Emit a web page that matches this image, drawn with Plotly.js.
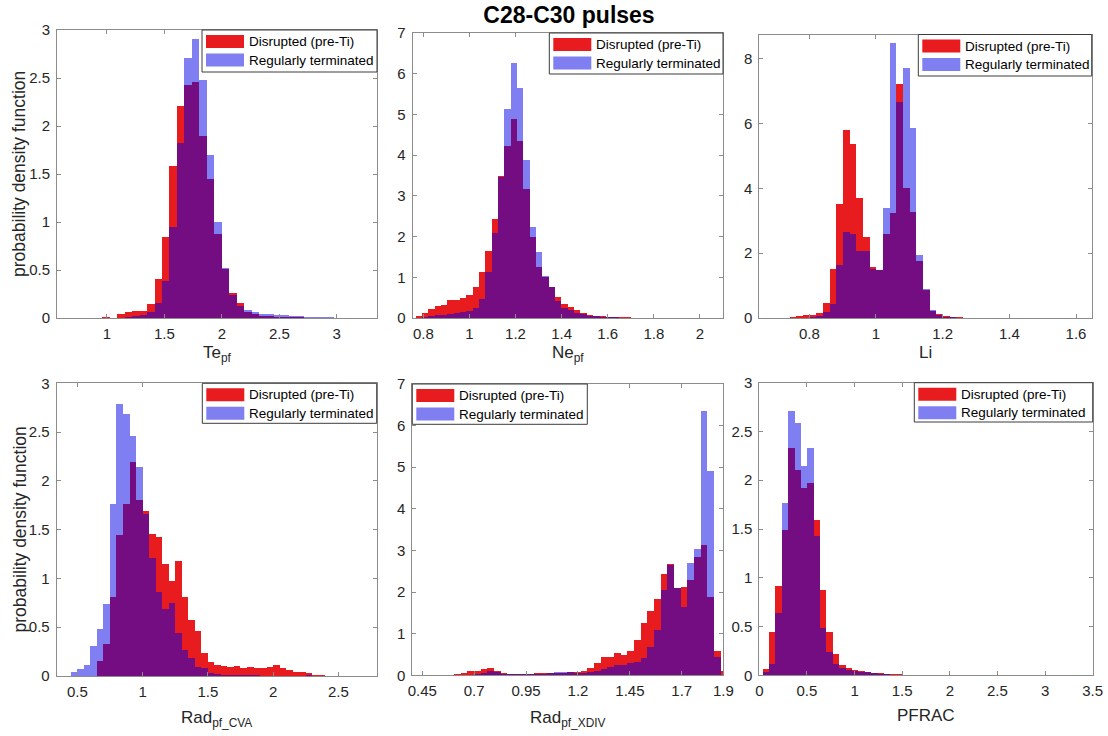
<!DOCTYPE html>
<html>
<head>
<meta charset="utf-8">
<script src="https://cdn.plot.ly/plotly-3.0.1.min.js"></script>
<style>
html,body{margin:0;padding:0;background:#ffffff;}
#chart{width:1108px;height:736px;}
</style>
</head>
<body>
<div id="chart"></div>
<script>
// ---------------- DATA (pdf-normalised histogram bin heights) ----------------
const seriesNames = ["Disrupted (pre-Ti)", "Regularly terminated"];

// Te_pf : bins start 0.959, width 0.065
const teBinStart = 0.959, teBinWidth = 0.065;
const teDisrupted = [0.007,0.003,0.04,0.06,0.07,0.07,0.15,0.41,0.845,1.585,2.21,2.43,2.455,1.90,1.45,0.87,0.507,0.257,0.153,0.066,0.045,0.025,0.02,0.015,0.01,0.01,0.008,0.005,0.004,0.003,0.002,0.001];
const teRegular   = [0,0,0.005,0.01,0.02,0.03,0.065,0.16,0.385,0.95,1.82,2.71,2.905,2.48,1.70,0.995,0.517,0.24,0.128,0.083,0.06,0.045,0.04,0.035,0.03,0.025,0.02,0.015,0.015,0.01,0.008,0.005];

// Ne_pf : bins start 0.7668, width 0.0275
const neBinStart = 0.7668, neBinWidth = 0.0275;
const neDisrupted = [0.04,0.12,0.21,0.29,0.33,0.44,0.45,0.48,0.57,0.76,1.12,1.64,2.43,3.48,4.22,4.89,4.34,3.17,1.98,1.26,1.0,0.76,0.52,0.34,0.27,0.19,0.13,0.08,0.05,0.04,0.03,0.02,0.02,0.015,0.01,0.01,0.008,0.005];
const neRegular   = [0,0.02,0.04,0.08,0.08,0.11,0.12,0.14,0.16,0.25,0.46,1.12,2.08,3.46,5.14,6.26,5.66,3.89,2.245,1.63,1.04,0.75,0.41,0.25,0.2,0.12,0.1,0.06,0.04,0.03,0.02,0.015,0.01,0.008,0.005,0.003,0.002,0.001];

// Li : bins start 0.741, width 0.02
const liBinStart = 0.741, liBinWidth = 0.02;
const liDisrupted = [0.02,0.06,0.08,0.1,0.15,0.47,1.52,3.5,5.8,5.37,3.7,2.5,1.58,1.47,2.6,3.25,7.2,4.0,3.27,1.77,0.85,0.22,0.12,0.06,0.04,0.03,0.01];
const liRegular   = [0,0,0.01,0.02,0.05,0.2,0.42,1.62,2.65,2.6,2.08,2.06,1.5,1.48,3.4,8.47,6.65,7.7,5.85,1.93,0.88,0.25,0.08,0.03,0.02,0.01,0];

// Rad_pf_CVA : bins start 0.35, width 0.05
const cvaBinStart = 0.35, cvaBinWidth = 0.05;
const cvaDisrupted = [0.005,0.003,0,0,0,0.005,0.154,0.328,0.813,1.445,1.76,2.19,1.80,1.69,1.455,1.42,1.148,0.977,1.182,0.813,0.574,0.465,0.239,0.147,0.113,0.106,0.096,0.106,0.085,0.089,0.082,0.085,0.096,0.113,0.079,0.06,0.044,0.044,0.027,0.014,0.01];
const cvaRegular   = [0,0.005,0.044,0.072,0.113,0.31,0.485,0.735,1.763,2.784,2.69,2.46,2.14,1.66,1.206,0.864,0.683,0.745,0.437,0.266,0.18,0.096,0.079,0.034,0.02,0.015,0.01,0.008,0.008,0.006,0.006,0.005,0.005,0.005,0.004,0.004,0.004,0.004,0.01,0,0];

// Rad_pf_XDIV : bins start 0.603, width 0.0321
const xdivBinStart = 0.603, xdivBinWidth = 0.0321;
const xdivDisrupted = [0.02,0.06,0.1,0.11,0.14,0.18,0.1,0.05,0.03,0.03,0.04,0.04,0.05,0.05,0.05,0.05,0.06,0.07,0.09,0.11,0.18,0.29,0.43,0.43,0.545,0.48,0.59,0.85,1.25,1.55,1.835,2.44,2.67,2.09,2.12,2.29,2.85,3.12,1.89,0.593,0.1];
const xdivRegular   = [0,0,0.01,0.02,0.05,0.1,0.07,0.04,0.02,0.02,0.03,0.03,0.04,0.04,0.05,0.07,0.075,0.07,0.05,0.065,0.09,0.11,0.14,0.19,0.25,0.25,0.29,0.33,0.41,0.67,1.1,2.05,2.64,2.1,1.65,2.69,3.03,6.34,4.92,0.433,0];

// PFRAC : bins start 0.035, width 0.067
const pfBinStart = 0.035, pfBinWidth = 0.067;
const pfDisrupted = [0.065,0.44,0.92,1.49,2.33,2.11,1.92,1.97,1.59,0.875,0.44,0.215,0.106,0.07,0.055,0.04,0.03,0.025,0.02,0.015,0.01,0.01,0.005,0.003,0.002,0.001];
const pfRegular   = [0.03,0.115,0.64,1.77,2.71,2.59,2.145,2.33,1.43,0.49,0.24,0.12,0.08,0.055,0.045,0.035,0.03,0.02,0.015,0.01,0.008,0.005,0.003,0.002,0.001,0.001];

// axis tick labels
const xdivTickVals = [0.45,0.7,0.95,1.2,1.45,1.7,1.9];
const xdivTickText = ["0.45","0.7","0.95","1.2","1.45","1.7","1.9"];
const xLabels = ["Te<sub>pf</sub>","Ne<sub>pf</sub>","Li","Rad<sub>pf_CVA</sub>","Rad<sub>pf_XDIV</sub>","PFRAC"];
const yLabel = "probability density function";
const chartTitle = "C28-C30 pulses";

// ---------------- LAYOUT / STYLE ----------------
const W = 1108, H = 736;
const px = x => x / W;
const py = y => 1 - y / H;
const FONT = "Liberation Sans, Arial, Helvetica, sans-serif";
const RED = "rgb(232,27,30)";
const BLUE = "rgba(0,0,230,0.5)";

function centers(start, width, n) {
  const c = [];
  for (let i = 0; i < n; i++) c.push(start + (i + 0.5) * width);
  return c;
}

// panel geometry in pixels: [left, top, right, bottom]
const panels = [
  {red: teDisrupted,  blue: teRegular,  start: teBinStart,  width: teBinWidth,
   box: [57, 30, 377, 318],   xr: [0.565, 3.35], yr: [0, 3],    xd: 0.5, yd: 0.5,
   leg: [202, 30, 377, 72],   titleY: 354},
  {red: neDisrupted,  blue: neRegular,  start: neBinStart,  width: neBinWidth,
   box: [412.7, 33, 723, 318], xr: [0.754, 2.1], yr: [0, 7],   xd: 0.2, yd: 1,
   leg: [549.3, 33, 723, 74],  titleY: 354},
  {red: liDisrupted,  blue: liRegular,  start: liBinStart,  width: liBinWidth,
   box: [759.3, 34.5, 1091.7, 318], xr: [0.65, 1.647], yr: [0, 8.74], xd: 0.2, yd: 2,
   leg: [918.3, 34.5, 1091.7, 76], titleY: 352},
  {red: cvaDisrupted, blue: cvaRegular, start: cvaBinStart, width: cvaBinWidth,
   box: [56.7, 383.3, 376.7, 676], xr: [0.342, 2.794], yr: [0, 3], xd: 0.5, yd: 0.5,
   leg: [202.3, 383.3, 376.7, 423.3], titleY: 719},
  {red: xdivDisrupted, blue: xdivRegular, start: xdivBinStart, width: xdivBinWidth,
   box: [412.3, 384, 723.3, 675.3], xr: [0.402, 1.9], yr: [0, 7], xd: null, yd: 1,
   leg: [412.3, 384, 587.3, 424.3], titleY: 719},
  {red: pfDisrupted,  blue: pfRegular,  start: pfBinStart,  width: pfBinWidth,
   box: [759.3, 382.7, 1092.7, 675.3], xr: [0, 3.5], yr: [0, 3], xd: 0.5, yd: 0.5,
   leg: [914.3, 382.7, 1092.7, 422], titleY: 715}
];

const traces = [];
const layout = {
  width: W, height: H,
  margin: {l: 0, r: 0, t: 0, b: 0},
  paper_bgcolor: "#ffffff", plot_bgcolor: "#ffffff",
  barmode: "overlay", bargap: 0,
  showlegend: false,
  font: {family: FONT, size: 15, color: "#262626"},
  title: {text: "<b>" + chartTitle + "</b>", x: px(569), xanchor: "center",
          y: py(15), yanchor: "middle", font: {family: FONT, size: 23, color: "#000000"}},
  shapes: [], annotations: []
};

panels.forEach((p, i) => {
  const n = i + 1;
  const xa = n === 1 ? "x" : "x" + n, ya = n === 1 ? "y" : "y" + n;
  const xk = n === 1 ? "xaxis" : "xaxis" + n, yk = n === 1 ? "yaxis" : "yaxis" + n;
  traces.push({type: "bar", x: centers(p.start, p.width, p.red.length), y: p.red, width: p.width,
    xaxis: xa, yaxis: ya, name: seriesNames[0], marker: {color: RED, line: {width: 0}}, hoverinfo: "skip"});
  traces.push({type: "bar", x: centers(p.start, p.width, p.blue.length), y: p.blue, width: p.width,
    xaxis: xa, yaxis: ya, name: seriesNames[1], marker: {color: BLUE, line: {width: 0}}, hoverinfo: "skip"});

  const common = {showline: true, mirror: "ticks", linecolor: "#8c8c8c", linewidth: 1,
    ticks: "inside", ticklen: 4, tickwidth: 1, tickcolor: "#8c8c8c",
    tickfont: {family: FONT, size: 15, color: "#262626"},
    showgrid: false, zeroline: false, fixedrange: true};
  const xax = Object.assign({}, common, {domain: [px(p.box[0]), px(p.box[2])], range: p.xr,
    anchor: ya, ticklabelstandoff: 2});
  if (p.xd) { xax.dtick = p.xd; xax.tick0 = 0; }
  else { xax.tickmode = "array"; xax.tickvals = xdivTickVals; xax.ticktext = xdivTickText; }
  const yax = Object.assign({}, common, {domain: [py(p.box[3]), py(p.box[1])], range: p.yr,
    anchor: xa, dtick: p.yd, tick0: 0, ticklabelstandoff: 3});
  layout[xk] = xax; layout[yk] = yax;

  // x-axis label
  layout.annotations.push({text: xLabels[i], xref: "paper", yref: "paper",
    x: px((p.box[0] + p.box[2]) / 2), y: py(p.titleY), xanchor: "center", yanchor: "middle",
    showarrow: false, font: {family: FONT, size: 17, color: "#262626"}});

  // legend (MATLAB style box)
  const L = p.leg;
  layout.shapes.push({type: "rect", xref: "paper", yref: "paper",
    x0: px(L[0]), x1: px(L[2]), y0: py(L[3]), y1: py(L[1]),
    fillcolor: "#ffffff", line: {color: "#3c3c3c", width: 1}, layer: "above"});
  const swL = L[0] + 4, swR = L[0] + 42;
  const rows = [[L[1] + 5, RED, seriesNames[0]], [L[1] + 23.5, BLUE, seriesNames[1]]];
  rows.forEach(r => {
    layout.shapes.push({type: "rect", xref: "paper", yref: "paper",
      x0: px(swL), x1: px(swR), y0: py(r[0] + 13), y1: py(r[0]),
      fillcolor: r[1], line: {width: 0}, layer: "above"});
    layout.annotations.push({text: r[2], xref: "paper", yref: "paper",
      x: px(swR + 3), y: py(r[0] + 6.5), xanchor: "left", yanchor: "middle",
      showarrow: false, font: {family: FONT, size: 13.5, color: "#000000"}});
  });
});

// y-axis labels on the left column
[174, 529.5].forEach(yc => {
  layout.annotations.push({text: yLabel, xref: "paper", yref: "paper",
    x: px(19), y: py(yc), xanchor: "center", yanchor: "middle", textangle: -90,
    showarrow: false, font: {family: FONT, size: 17.5, color: "#262626"}});
});

Plotly.newPlot("chart", traces, layout, {displayModeBar: false, staticPlot: true});
</script>
</body>
</html>
